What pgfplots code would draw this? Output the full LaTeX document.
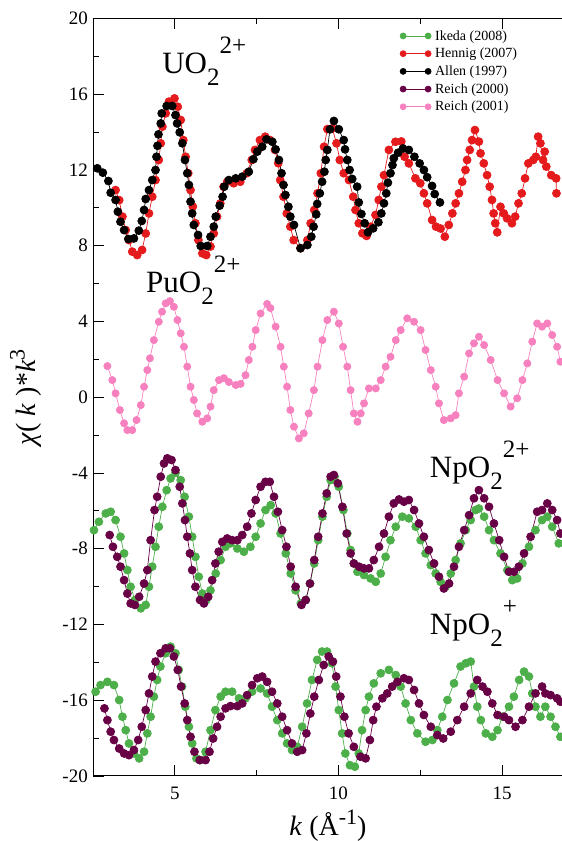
\documentclass[border=0pt]{standalone}
\usepackage{fontspec}
\setmainfont{Liberation Serif}
\usepackage{pgfplots}
\pgfplotsset{compat=1.18}
\definecolor{ikeda}{HTML}{4DAF4A}
\definecolor{hennig}{HTML}{E41A1C}
\definecolor{reichA}{HTML}{680046}
\definecolor{reichB}{HTML}{F781BF}
% xmgrace-like ion label: big subscript then big superscript
\newcommand{\ion}[3]{#1\raisebox{-12pt}{\fontsize{25}{25}\selectfont #2}\raisebox{20pt}{\fontsize{25}{25}\selectfont #3}}

\begin{document}
\begin{tikzpicture}
\begin{axis}[
  scale only axis,
  width=470pt, height=757.7pt,
  xmin=2.5, xmax=16.86,
  ymin=-20, ymax=20,
  xtick={5,10,15}, minor x tick num=1,
  ytick={-20,-16,...,20}, minor y tick num=1,
  ytick pos=left,
  tick align=inside,
  major tick length=11pt, minor tick length=6pt,
  axis line style={line width=1pt},
  every tick/.style={black, line width=0.8pt},
  /pgf/number format/assume math mode=true,
  tick label style={font=\fontsize{19}{19}\selectfont, inner sep=0pt},
  yticklabel style={xshift=-5pt},
  xticklabel style={yshift=-11pt},
  xlabel={\textit{k} (Å\raisebox{11pt}{\fontsize{22}{22}\selectfont -1})},
  ylabel={\textit{χ}( \textit{k} )*\textit{k}\raisebox{11pt}{\fontsize{22}{22}\selectfont 3}},
  label style={font=\fontsize{28}{28}\selectfont, inner sep=0pt},
  xlabel style={at={(axis description cs:0.5,-0.0449)}, anchor=north},
  ylabel style={at={(axis description cs:-0.143,0.5)}, anchor=center},
  every axis plot/.append style={line width=0.7pt, mark=*, mark size=4pt},
  legend style={draw=none, fill=none, at={(axis description cs:0.653,0.987)},
    anchor=north west, font=\fontsize{14}{15}\selectfont, row sep=2.5pt,
    inner sep=0pt, column sep=2pt},
  legend cell align=left,
  legend image code/.code={
    \draw[mark repeat=1,#1,mark size=3pt] plot coordinates {(0pt,0pt) (25pt,0pt)};
  },
]
% Ikeda (2008), NpO2^2+
\addplot[color=ikeda] table {
2.53 -7.02
2.68 -6.58
2.89 -6.14
3.04 -6.05
3.19 -6.49
3.34 -7.37
3.45 -8.25
3.55 -9.13
3.65 -10.01
3.78 -10.71
3.96 -11.15
4.11 -10.97
4.21 -10.01
4.31 -8.95
4.41 -7.90
4.51 -6.84
4.62 -5.79
4.75 -4.91
4.87 -4.29
5.02 -4.00
5.18 -4.38
5.30 -5.26
5.43 -6.31
5.53 -7.37
5.63 -8.43
5.73 -9.48
5.84 -10.37
5.96 -10.71
6.09 -10.20
6.25 -9.31
6.40 -8.60
6.55 -7.90
6.70 -7.72
6.91 -7.99
7.11 -8.16
7.31 -7.90
7.47 -7.37
7.62 -6.67
7.77 -5.96
7.93 -5.70
8.08 -6.14
8.23 -7.20
8.39 -8.25
8.54 -9.31
8.69 -10.20
8.85 -10.89
9.00 -10.71
9.13 -9.84
9.26 -8.78
9.38 -7.55
9.51 -6.31
9.64 -5.26
9.76 -4.38
9.88 -4.20
10.01 -4.73
10.15 -5.96
10.27 -7.20
10.37 -8.07
10.47 -8.78
10.58 -9.22
10.78 -9.39
10.98 -9.57
11.14 -9.75
11.29 -9.31
11.44 -8.43
11.59 -7.55
11.75 -6.84
11.95 -6.31
12.15 -6.40
12.36 -6.84
12.51 -7.55
12.66 -8.25
12.82 -8.87
12.97 -9.31
13.12 -9.75
13.27 -10.01
13.43 -9.31
13.58 -8.60
13.73 -7.72
13.89 -7.02
14.04 -6.49
14.19 -5.96
14.29 -5.88
14.45 -6.31
14.60 -7.02
14.75 -7.55
14.95 -8.25
15.16 -9.13
15.31 -9.66
15.46 -9.57
15.62 -8.78
15.82 -7.90
16.02 -7.02
16.22 -6.49
16.38 -6.31
16.53 -6.84
16.73 -7.72
};
\addlegendentry{Ikeda (2008)}
% Hennig (2007), UO2^2+
\addplot[color=hennig] table {
3.19 10.93
3.30 10.40
3.40 9.53
3.50 8.82
3.60 8.29
3.70 7.68
3.85 7.50
4.00 7.77
4.11 8.64
4.21 9.70
4.31 10.58
4.41 11.46
4.51 12.52
4.57 13.40
4.62 14.28
4.72 14.98
4.82 15.60
4.99 15.77
5.09 15.33
5.18 14.63
5.26 13.57
5.33 12.69
5.41 11.82
5.48 10.93
5.55 10.06
5.63 9.18
5.72 8.29
5.84 7.59
5.96 7.50
6.09 7.95
6.19 8.64
6.29 9.53
6.39 10.23
6.49 11.11
6.60 11.37
6.80 11.29
7.00 11.37
7.20 11.82
7.35 12.52
7.45 13.05
7.60 13.57
7.76 13.75
7.91 13.57
8.06 13.05
8.16 12.35
8.22 11.46
8.32 10.58
8.42 9.70
8.53 9.00
8.63 8.29
8.84 7.86
9.05 8.29
9.15 9.18
9.26 9.88
9.36 10.76
9.46 11.82
9.56 13.22
9.66 14.15
9.81 14.19
9.94 13.40
10.04 12.52
10.16 11.82
10.32 11.46
10.45 10.58
10.52 9.88
10.62 9.18
10.73 8.65
10.86 8.51
10.98 9.00
11.13 9.62
11.23 10.41
11.31 11.11
11.39 11.72
11.54 13.05
11.74 13.48
11.92 13.50
12.02 12.69
12.15 12.34
12.35 11.55
12.50 11.29
12.61 10.76
12.71 10.23
12.86 9.35
12.98 9.00
13.12 8.90
13.25 8.47
13.37 9.09
13.48 9.70
13.58 10.23
13.68 10.76
13.78 11.37
13.88 11.99
13.93 12.52
14.01 13.05
14.08 13.57
14.17 14.10
14.29 13.49
14.34 12.87
14.44 12.34
14.54 11.72
14.62 11.11
14.69 10.41
14.74 9.70
14.79 9.18
14.85 8.70
14.95 10.05
15.05 9.70
15.15 9.44
15.30 9.18
15.40 9.53
15.50 10.23
15.60 10.76
15.70 11.55
15.80 12.34
15.95 12.52
16.03 12.69
16.10 13.75
16.17 13.40
16.25 12.52
16.30 12.96
16.35 12.17
16.50 11.72
16.65 11.55
16.66 10.76
};
\addlegendentry{Hennig (2007)}
% Allen (1997), UO2^2+
\addplot[color=black] table {
2.63 12.08
2.80 11.85
2.97 11.41
3.04 10.79
3.19 10.41
3.26 9.79
3.34 9.26
3.45 8.82
3.58 8.35
3.75 8.38
3.90 8.79
3.99 9.30
4.06 9.88
4.11 10.46
4.21 10.93
4.31 11.46
4.41 11.99
4.44 12.69
4.47 13.27
4.50 13.87
4.57 14.45
4.60 14.98
4.75 15.37
4.92 15.37
5.02 14.89
5.07 14.45
5.15 13.98
5.23 13.40
5.31 12.52
5.38 11.82
5.43 11.20
5.48 10.32
5.53 9.70
5.58 9.09
5.71 8.56
5.79 7.98
5.99 7.98
6.09 8.47
6.19 9.00
6.25 9.53
6.37 10.11
6.46 10.58
6.51 11.11
6.65 11.46
6.86 11.55
7.06 11.64
7.26 11.90
7.40 12.56
7.52 12.96
7.67 13.22
7.80 13.61
7.98 13.48
8.08 13.08
8.18 12.52
8.26 11.82
8.32 11.20
8.38 10.67
8.47 10.05
8.53 9.53
8.64 9.09
8.84 7.86
9.05 8.03
9.17 8.47
9.24 9.00
9.32 9.65
9.35 10.20
9.43 10.76
9.50 11.37
9.57 11.90
9.61 12.52
9.66 13.05
9.74 14.14
9.86 14.58
10.01 14.14
10.16 13.57
10.20 13.08
10.27 12.52
10.34 11.99
10.42 11.52
10.57 11.11
10.62 10.28
10.70 9.67
10.80 9.18
10.90 8.70
11.06 8.91
11.22 9.23
11.31 9.70
11.39 10.23
11.46 10.76
11.51 11.32
11.59 11.82
11.65 12.25
11.69 12.61
11.82 12.90
11.97 13.13
12.15 13.05
12.32 12.69
12.48 12.34
12.61 11.99
12.71 11.61
12.86 11.15
12.94 10.72
13.10 10.28
};
\addlegendentry{Allen (1997)}
% Reich (2000), NpO2^2+
\addplot[color=reichA] table {
3.01 -7.28
3.11 -7.90
3.24 -8.43
3.34 -8.95
3.45 -9.66
3.55 -10.37
3.65 -10.89
3.78 -10.97
3.91 -10.54
4.06 -9.84
4.16 -9.13
4.26 -7.55
4.38 -5.96
4.46 -5.26
4.57 -4.20
4.67 -3.50
4.77 -3.23
4.90 -3.32
5.02 -3.85
5.15 -4.73
5.23 -5.61
5.31 -6.49
5.38 -7.37
5.46 -8.25
5.53 -9.13
5.63 -10.01
5.77 -10.71
5.89 -10.89
6.02 -10.54
6.14 -9.66
6.24 -8.78
6.34 -8.16
6.45 -7.64
6.60 -7.46
6.75 -7.55
6.91 -7.55
7.06 -7.28
7.21 -6.84
7.34 -6.14
7.47 -5.43
7.62 -4.73
7.77 -4.47
7.90 -4.47
8.03 -5.26
8.15 -6.05
8.28 -7.02
8.41 -7.90
8.54 -8.95
8.69 -10.01
8.87 -10.97
9.00 -10.71
9.13 -9.84
9.26 -8.60
9.38 -7.37
9.51 -6.14
9.64 -5.08
9.76 -4.20
9.86 -4.11
9.98 -4.55
10.12 -5.79
10.25 -7.20
10.37 -8.25
10.47 -8.78
10.63 -8.95
10.78 -9.04
10.93 -9.04
11.08 -8.60
11.24 -7.90
11.39 -7.20
11.54 -6.31
11.69 -5.61
11.85 -5.40
12.00 -5.52
12.15 -5.43
12.31 -5.96
12.46 -6.67
12.61 -7.37
12.76 -8.07
12.92 -8.78
13.07 -9.48
13.22 -10.10
13.38 -9.84
13.53 -8.95
13.68 -7.90
13.84 -7.02
13.99 -6.23
14.14 -5.34
14.29 -4.91
14.45 -5.34
14.60 -5.79
14.75 -6.67
14.91 -7.55
15.06 -8.43
15.21 -9.22
15.36 -9.22
15.51 -8.95
15.67 -8.25
15.87 -7.37
16.07 -6.05
16.22 -5.96
16.38 -5.61
16.53 -5.96
16.68 -6.49
16.78 -7.20
};
\addlegendentry{Reich (2000)}
% Reich (2001), PuO2^2+
\addplot[color=reichB, mark size=3.6pt] table {
2.94 1.64
3.09 0.90
3.19 0.20
3.32 -0.68
3.45 -1.38
3.55 -1.74
3.70 -1.74
3.83 -1.21
3.96 -0.42
4.06 0.55
4.16 1.43
4.24 2.05
4.36 3.01
4.51 3.98
4.61 4.51
4.72 4.95
4.85 5.07
4.97 4.77
5.08 4.07
5.18 3.37
5.28 2.66
5.38 1.61
5.48 0.55
5.58 -0.15
5.68 -0.86
5.84 -1.30
5.99 -1.12
6.09 -0.50
6.19 0.37
6.35 0.90
6.50 1.00
6.65 0.80
6.86 0.64
7.01 0.70
7.16 1.16
7.26 1.96
7.37 2.66
7.47 3.54
7.62 4.42
7.82 4.92
7.92 4.70
8.08 3.72
8.23 2.66
8.33 1.61
8.43 0.55
8.53 -0.68
8.64 -1.56
8.79 -2.18
8.94 -1.91
9.09 -0.86
9.25 0.37
9.36 1.61
9.51 3.01
9.66 4.07
9.86 4.51
10.01 3.89
10.14 2.66
10.27 1.61
10.37 0.37
10.47 -0.86
10.58 -1.30
10.68 -0.86
10.78 -0.33
10.93 0.46
11.14 0.46
11.29 0.90
11.44 1.61
11.59 2.13
11.75 3.01
11.90 3.54
12.10 4.16
12.31 3.98
12.51 3.54
12.66 2.49
12.82 1.43
12.97 0.55
13.07 -0.33
13.22 -1.21
13.43 -1.12
13.58 -0.95
13.68 0.20
13.84 1.08
13.99 2.31
14.14 2.84
14.29 3.19
14.45 2.75
14.65 1.96
14.86 0.90
15.06 0.20
15.26 -0.50
15.46 -0.06
15.62 0.90
15.77 1.78
15.92 2.93
16.07 3.89
16.22 3.72
16.38 3.89
16.53 3.28
16.68 2.66
16.78 1.87
};
\addlegendentry{Reich (2001)}
% Ikeda (2008), NpO2^+
\addplot[color=ikeda, forget plot] table {
2.58 -15.55
2.73 -15.20
2.94 -15.03
3.14 -15.20
3.30 -15.99
3.40 -16.87
3.50 -17.58
3.60 -18.28
3.75 -18.81
3.91 -19.07
4.06 -18.72
4.16 -17.75
4.26 -16.87
4.36 -15.81
4.46 -14.93
4.56 -14.22
4.72 -13.52
4.87 -13.17
5.02 -13.52
5.12 -14.40
5.22 -15.28
5.32 -16.34
5.43 -17.40
5.53 -18.28
5.66 -19.07
5.78 -19.16
5.94 -18.72
6.09 -17.58
6.24 -16.52
6.40 -15.81
6.55 -15.55
6.75 -15.55
6.96 -15.90
7.16 -15.90
7.36 -15.55
7.62 -15.38
7.82 -15.64
7.97 -16.34
8.13 -17.05
8.28 -17.75
8.43 -18.28
8.58 -18.63
8.74 -18.46
8.89 -17.40
9.04 -16.17
9.19 -14.93
9.35 -13.87
9.50 -13.43
9.65 -13.43
9.80 -14.05
9.91 -15.28
10.01 -16.52
10.11 -17.75
10.21 -18.81
10.35 -19.43
10.50 -19.51
10.62 -18.81
10.72 -17.58
10.83 -16.52
10.93 -15.81
11.08 -15.11
11.29 -14.58
11.54 -14.40
11.75 -14.67
11.90 -15.28
12.05 -16.17
12.21 -17.05
12.41 -17.75
12.66 -18.19
12.87 -18.10
13.02 -17.58
13.17 -16.87
13.33 -15.99
13.53 -15.11
13.73 -14.22
13.89 -14.05
14.04 -13.96
14.14 -15.28
14.24 -16.34
14.35 -17.05
14.50 -17.75
14.70 -17.93
14.86 -17.58
15.01 -16.87
15.21 -16.34
15.36 -15.81
15.52 -14.93
15.67 -14.49
15.82 -14.75
15.92 -15.64
16.02 -16.34
16.17 -16.87
16.32 -16.34
16.48 -16.87
16.63 -17.40
16.78 -17.93
};
% Reich (2000), NpO2^+
\addplot[color=reichA, forget plot] table {
2.85 -16.43
2.94 -17.05
3.04 -17.66
3.14 -18.10
3.30 -18.55
3.45 -18.81
3.60 -18.90
3.75 -18.63
3.88 -18.10
3.99 -17.40
4.11 -16.52
4.21 -15.64
4.31 -14.75
4.41 -13.96
4.56 -13.52
4.72 -13.26
4.85 -13.26
4.97 -13.69
5.09 -14.40
5.19 -15.28
5.30 -16.17
5.38 -17.05
5.48 -17.93
5.60 -18.72
5.76 -19.16
5.94 -19.16
6.06 -18.72
6.17 -18.02
6.29 -17.40
6.40 -16.87
6.55 -16.43
6.70 -16.31
6.91 -16.31
7.06 -16.17
7.21 -15.73
7.36 -15.20
7.52 -14.84
7.67 -14.75
7.82 -15.03
7.97 -15.55
8.13 -16.17
8.28 -16.87
8.43 -17.58
8.58 -18.28
8.74 -18.72
8.89 -18.63
9.02 -17.75
9.14 -16.70
9.26 -15.81
9.40 -14.93
9.55 -14.14
9.70 -13.69
9.83 -13.96
9.93 -14.75
10.06 -15.81
10.18 -16.87
10.31 -17.75
10.47 -18.46
10.67 -18.98
10.83 -19.07
10.96 -18.10
11.06 -17.05
11.16 -16.34
11.34 -15.90
11.49 -15.64
11.64 -15.28
11.80 -15.03
12.00 -14.84
12.15 -14.93
12.31 -15.46
12.46 -16.17
12.61 -16.78
12.82 -17.40
13.02 -17.84
13.20 -18.02
13.43 -17.66
13.63 -17.05
13.84 -16.34
14.04 -15.64
14.24 -14.93
14.40 -15.28
14.55 -15.55
14.70 -16.17
14.86 -16.78
15.06 -16.87
15.21 -17.05
15.41 -17.40
15.62 -17.05
15.82 -16.34
16.02 -15.64
16.22 -15.28
16.32 -15.64
16.48 -15.73
16.68 -15.90
16.78 -16.08
};
\node[anchor=base west, inner sep=0pt, font=\fontsize{31}{31}\selectfont] at (axis cs:4.61,17.06) {\ion{UO}{2}{2+}};
\node[anchor=base west, inner sep=0pt, font=\fontsize{31}{31}\selectfont] at (axis cs:4.12,5.50) {\ion{PuO}{2}{2+}};
\node[anchor=base west, inner sep=0pt, font=\fontsize{31}{31}\selectfont] at (axis cs:12.79,-4.22) {\ion{NpO}{2}{2+}};
\node[anchor=base west, inner sep=0pt, font=\fontsize{31}{31}\selectfont] at (axis cs:12.79,-12.51) {\ion{NpO}{2}{+}};
\coordinate (ll) at (rel axis cs:0,0);
\coordinate (ur) at (rel axis cs:1,1);
\end{axis}
\pgfresetboundingbox
\path[use as bounding box] ([xshift=-93pt,yshift=-65pt]ll) rectangle ([xshift=-2pt,yshift=18.3pt]ur);
\end{tikzpicture}
\end{document}
